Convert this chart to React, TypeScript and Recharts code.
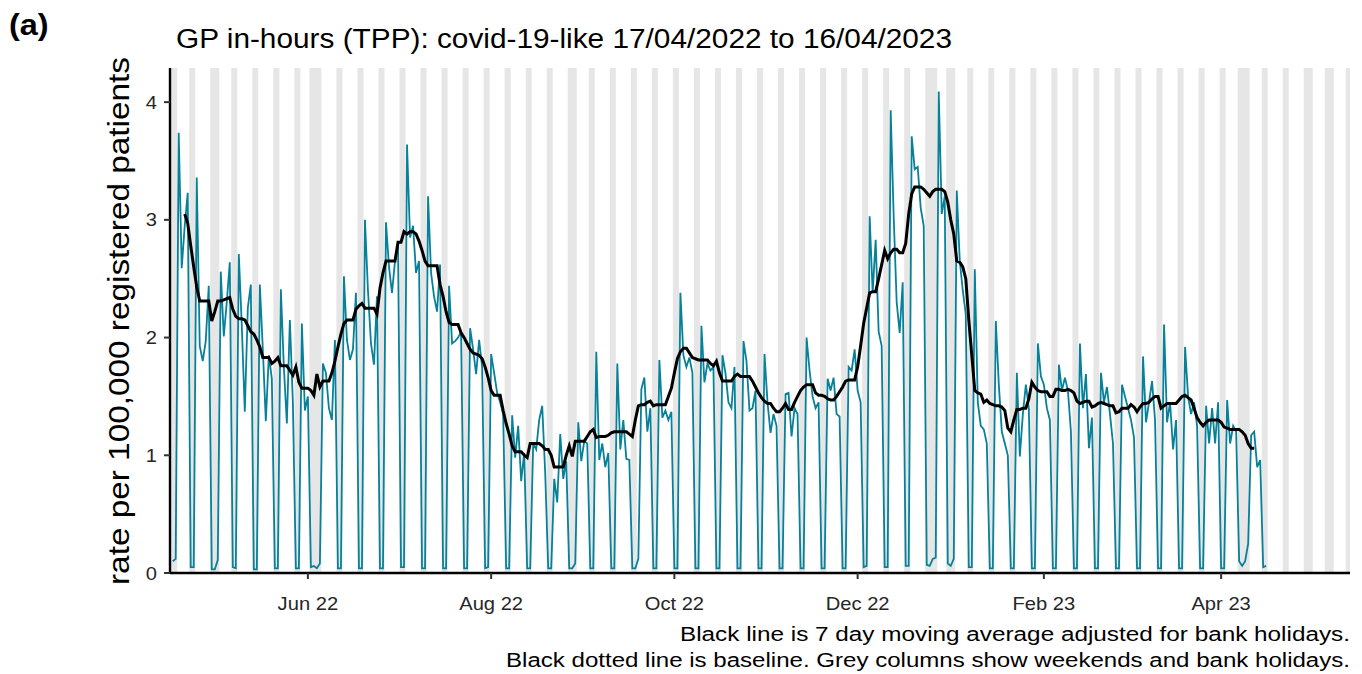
import React from "react";
import { ComposedChart, Line, XAxis, YAxis, ReferenceArea } from "recharts";

// ---------- data ----------
const START_DATE = "2022-04-17"; // day 0 (Sunday)

// daily rate per 100,000 registered patients, one row per week (Sun..Sat)
const dailyRate: number[] = [
  0.10, 0.12, 3.74, 2.59, 2.95, 3.23, 0.05,
  0.05, 3.36, 1.93, 1.80, 1.97, 2.44, 0.03,
  0.03, 0.11, 2.56, 2.01, 2.30, 2.64, 0.05,
  0.04, 2.71, 2.10, 1.37, 2.25, 2.45, 0.03,
  0.03, 2.45, 1.90, 1.29, 1.85, 1.65, 0.04,
  0.04, 2.41, 1.75, 1.27, 2.15, 1.45, 0.04,
  0.04, 2.12, 1.38, 1.50, 0.05, 0.06, 0.04,
  0.08, 1.78, 1.70, 1.40, 1.30, 1.98, 0.04,
  0.04, 2.52, 1.98, 1.81, 1.90, 2.38, 0.04,
  0.04, 3.00, 2.40, 1.95, 1.77, 2.35, 0.04,
  0.04, 2.98, 2.60, 2.38, 2.65, 2.80, 0.05,
  0.05, 3.64, 2.85, 2.95, 2.55, 2.65, 0.04,
  0.04, 3.20, 2.55, 2.35, 2.22, 2.62, 0.04,
  0.04, 2.44, 1.95, 1.97, 2.00, 2.05, 0.04,
  0.04, 2.08, 1.90, 1.69, 1.98, 1.75, 0.04,
  0.05, 1.86, 1.70, 1.53, 1.45, 1.35, 0.04,
  0.04, 1.34, 0.98, 1.25, 0.78, 1.02, 0.04,
  0.04, 1.10, 1.05, 1.30, 1.42, 0.85, 0.04,
  0.04, 0.80, 0.60, 1.18, 0.80, 0.95, 0.04,
  0.04, 0.08, 1.28, 0.95, 1.12, 1.10, 0.04,
  0.04, 1.88, 0.96, 1.10, 0.90, 1.02, 0.04,
  0.04, 1.78, 1.05, 1.30, 0.97, 0.96, 0.04,
  0.04, 0.12, 1.56, 1.66, 1.20, 1.40, 0.04,
  0.04, 1.81, 1.32, 1.38, 1.30, 1.37, 0.04,
  0.04, 2.38, 1.85, 1.75, 1.83, 1.70, 0.04,
  0.04, 2.10, 1.62, 1.78, 1.72, 1.75, 0.04,
  0.04, 1.85, 1.70, 1.45, 1.40, 1.75, 0.04,
  0.04, 1.97, 1.80, 1.38, 1.40, 1.55, 0.04,
  0.04, 1.86, 1.45, 1.19, 1.35, 1.25, 0.04,
  0.04, 1.52, 1.53, 1.16, 1.40, 1.35, 0.04,
  0.04, 2.00, 1.72, 1.50, 1.40, 1.45, 0.04,
  0.04, 1.65, 1.55, 1.66, 1.35, 1.33, 0.04,
  0.04, 1.75, 1.72, 1.90, 1.55, 1.45, 0.05,
  0.06, 3.03, 2.38, 2.83, 2.05, 1.93, 0.05,
  0.05, 3.93, 3.03, 2.30, 2.04, 2.47, 0.06,
  0.06, 3.71, 3.43, 3.45, 3.10, 2.95, 0.07,
  0.06, 0.12, 0.13, 4.09, 3.05, 3.20, 0.08,
  0.06, 0.12, 3.25, 2.65, 2.40, 2.20, 0.05,
  0.05, 2.58, 1.45, 1.25, 1.22, 1.10, 0.04,
  0.04, 2.14, 1.60, 1.20, 1.10, 1.00, 0.04,
  0.04, 1.70, 0.99, 1.35, 1.60, 1.40, 0.04,
  0.04, 1.95, 1.67, 1.60, 1.40, 1.30, 0.04,
  0.04, 1.77, 1.55, 1.66, 1.55, 1.20, 0.04,
  0.04, 1.95, 1.40, 1.69, 1.06, 1.32, 0.04,
  0.04, 1.70, 1.45, 1.58, 1.35, 1.10, 0.04,
  0.04, 1.60, 1.50, 1.40, 1.30, 1.15, 0.04,
  0.04, 1.84, 1.28, 1.45, 1.63, 1.30, 0.04,
  0.04, 2.11, 1.28, 1.45, 1.05, 1.30, 0.04,
  0.04, 1.92, 1.50, 1.35, 1.45, 1.25, 0.04,
  0.04, 1.42, 1.10, 1.40, 1.10, 1.45, 0.04,
  0.04, 1.47, 1.10, 1.25, 1.20, 0.10, 0.06,
  0.10, 0.25, 1.17, 1.20, 0.90, 0.96, 0.05,
  0.06,
];

// 7 day moving average (black line), one row per week (Sun..Sat)
const movingAverage: (number | null)[] = [
  null, null, null, null, 3.05, 2.97, 2.78,
  2.60, 2.43, 2.31, 2.31, 2.31, 2.31, 2.14,
  2.22, 2.31, 2.31, 2.32, 2.33, 2.34, 2.24,
  2.18, 2.16, 2.16, 2.15, 2.10, 2.05, 2.03,
  1.98, 1.92, 1.83, 1.83, 1.83, 1.78, 1.80,
  1.83, 1.76, 1.76, 1.76, 1.72, 1.68, 1.75,
  1.62, 1.57, 1.57, 1.57, 1.55, 1.51, 1.69,
  1.58, 1.63, 1.63, 1.63, 1.70, 1.80, 1.92,
  2.03, 2.12, 2.15, 2.15, 2.15, 2.24, 2.27,
  2.29, 2.25, 2.25, 2.25, 2.25, 2.20, 2.42,
  2.55, 2.65, 2.65, 2.65, 2.65, 2.81, 2.81,
  2.90, 2.88, 2.90, 2.90, 2.88, 2.82, 2.74,
  2.65, 2.61, 2.61, 2.61, 2.61, 2.45, 2.35,
  2.22, 2.13, 2.11, 2.11, 2.11, 2.04, 2.00,
  1.95, 1.90, 1.87, 1.86, 1.85, 1.82, 1.75,
  1.66, 1.55, 1.51, 1.51, 1.51, 1.38, 1.27,
  1.18, 1.08, 1.03, 1.03, 1.03, 1.00, 0.98,
  1.10, 1.10, 1.10, 1.10, 1.08, 1.05, 1.05,
  1.00, 0.90, 0.90, 0.90, 0.90, 1.00, 1.08,
  0.99, 1.12, 1.12, 1.12, 1.12, 1.16, 1.20,
  1.22, 1.15, 1.16, 1.16, 1.16, 1.17, 1.19,
  1.20, 1.20, 1.20, 1.20, 1.20, 1.18, 1.16,
  1.30, 1.42, 1.43, 1.43, 1.45, 1.46, 1.42,
  1.43, 1.43, 1.43, 1.43, 1.50, 1.57, 1.70,
  1.82, 1.88, 1.91, 1.91, 1.87, 1.83, 1.82,
  1.81, 1.81, 1.81, 1.81, 1.78, 1.76, 1.80,
  1.70, 1.63, 1.63, 1.63, 1.63, 1.67, 1.69,
  1.67, 1.67, 1.67, 1.67, 1.63, 1.58, 1.53,
  1.49, 1.46, 1.44, 1.44, 1.40, 1.37, 1.37,
  1.40, 1.44, 1.39, 1.39, 1.45, 1.50, 1.55,
  1.58, 1.60, 1.60, 1.60, 1.53, 1.51, 1.51,
  1.50, 1.48, 1.47, 1.47, 1.50, 1.54, 1.58,
  1.63, 1.64, 1.64, 1.64, 1.75, 1.93, 2.12,
  2.25, 2.38, 2.39, 2.39, 2.50, 2.62, 2.74,
  2.67, 2.72, 2.75, 2.75, 2.72, 2.72, 2.80,
  3.05, 3.22, 3.28, 3.28, 3.28, 3.26, 3.23,
  3.20, 3.24, 3.26, 3.26, 3.26, 3.24, 3.15,
  3.00, 2.88, 2.65, 2.64, 2.60, 2.50, 2.15,
  1.85, 1.55, 1.53, 1.52, 1.45, 1.47, 1.44,
  1.43, 1.42, 1.42, 1.41, 1.38, 1.23, 1.20,
  1.30, 1.39, 1.39, 1.40, 1.40, 1.48, 1.62,
  1.58, 1.55, 1.54, 1.54, 1.54, 1.50, 1.50,
  1.56, 1.56, 1.55, 1.55, 1.56, 1.55, 1.53,
  1.46, 1.44, 1.45, 1.46, 1.46, 1.41, 1.42,
  1.44, 1.45, 1.44, 1.43, 1.42, 1.42, 1.36,
  1.37, 1.40, 1.40, 1.40, 1.43, 1.41, 1.37,
  1.41, 1.44, 1.44, 1.45, 1.48, 1.50, 1.50,
  1.40, 1.42, 1.44, 1.44, 1.44, 1.44, 1.47,
  1.50, 1.51, 1.49, 1.47, 1.40, 1.32, 1.28,
  1.25, 1.28, 1.30, 1.30, 1.30, 1.30, 1.28,
  1.24, 1.23, 1.22, 1.22, 1.22, 1.22, 1.20,
  1.17, 1.10, 1.06, 1.06, null, null, null,
  null,
];

const bankHolidays: string[] = [
  "2022-04-18", "2022-05-02", "2022-06-02", "2022-06-03", "2022-08-29",
  "2022-12-26", "2022-12-27", "2023-01-02", "2023-04-07", "2023-04-10",
  "2023-05-01", "2023-05-08",
];

const tickDates: string[] = ["2022-06-01", "2022-08-01", "2022-10-01", "2022-12-01", "2023-02-01", "2023-04-01"];
const tickLabels: string[] = ["Jun 22", "Aug 22", "Oct 22", "Dec 22", "Feb 23", "Apr 23"];
const yTicks: number[] = [0, 1, 2, 3, 4];

const titleText = "GP in-hours (TPP): covid-19-like 17/04/2022 to 16/04/2023";
const yLabelText = "rate per 100,000 registered patients";
const captionLines: string[] = [
  "Black line is 7 day moving average adjusted for bank holidays.",
  "Black dotted line is baseline. Grey columns show weekends and bank holidays.",
];

// ---------- layout ----------
const W = 1354;
const H = 666;
const PLOT_LEFT = 162;
const PLOT_RIGHT = 1342;
const PLOT_TOP = 60;
const PLOT_BOTTOM = 565;
const X_AXIS_H = 40;
const X_DOMAIN: [number, number] = [-0.9, 391.9];
const Y_DOMAIN: [number, number] = [0, 4.29];
const FONT = "'Liberation Sans', Arial, Helvetica, sans-serif";
const TEAL = "#07809a";
const GREY = "#e6e6e6";
const SX = 1.12;

const DAY_MS = 86400000;
const startUtc = Date.parse(START_DATE + "T00:00:00Z");
const dayIndex = (iso: string) => Math.round((Date.parse(iso + "T00:00:00Z") - startUtc) / DAY_MS);

const tickDays = tickDates.map(dayIndex);
const holidayDays = new Set(bankHolidays.map(dayIndex));

const data = dailyRate.map((v, i) => ({ day: i, rate: v, ma: movingAverage[i] }));

// grey runs (weekends + bank holidays) across the whole axis
const greyRuns: { x1: number; x2: number }[] = (() => {
  const runs: { x1: number; x2: number }[] = [];
  let runStart: number | null = null;
  const last = Math.ceil(X_DOMAIN[1]) + 1;
  for (let d = Math.floor(X_DOMAIN[0]); d <= last; d++) {
    const dow = new Date(startUtc + d * DAY_MS).getUTCDay();
    const grey = dow === 0 || dow === 6 || holidayDays.has(d);
    if (grey && runStart === null) runStart = d;
    if (!grey && runStart !== null) {
      runs.push({ x1: runStart - 0.5, x2: d - 1 + 0.5 });
      runStart = null;
    }
  }
  if (runStart !== null) runs.push({ x1: runStart - 0.5, x2: last + 0.5 });
  return runs;
})();

const XTick = (props: any) => {
  const { x, payload } = props;
  const idx = tickDays.indexOf(payload.value);
  return (
    <text
      transform={`translate(${x},${PLOT_BOTTOM + 37}) scale(${SX},1)`}
      textAnchor="middle"
      fontSize={18}
      fontFamily={FONT}
      fill="#262626"
    >
      {idx >= 0 ? tickLabels[idx] : ""}
    </text>
  );
};

const YTick = (props: any) => {
  const { y, payload } = props;
  return (
    <text
      transform={`translate(${PLOT_LEFT - 13},${y + 6.5}) scale(${SX},1)`}
      textAnchor="end"
      fontSize={18}
      fontFamily={FONT}
      fill="#262626"
    >
      {payload.value}
    </text>
  );
};

export default function App() {
  return (
    <div style={{ position: "relative", width: W, height: H }}>
      <ComposedChart
        width={W}
        height={H}
        data={data}
        margin={{ top: PLOT_TOP, right: W - PLOT_RIGHT, bottom: H - PLOT_BOTTOM - X_AXIS_H, left: 0 }}
      >
        {greyRuns.map((r, i) => (
          <ReferenceArea
            key={i}
            x1={r.x1}
            x2={r.x2}
            y1={Y_DOMAIN[0]}
            y2={Y_DOMAIN[1]}
            fill={GREY}
            fillOpacity={1}
            stroke="none"
            ifOverflow="hidden"
          />
        ))}
        <XAxis
          dataKey="day"
          type="number"
          domain={X_DOMAIN}
          allowDataOverflow
          ticks={tickDays}
          interval={0}
          height={X_AXIS_H}
          axisLine={{ stroke: "#000", strokeWidth: 2.4 }}
          tickLine={{ stroke: "#333", strokeWidth: 2 }}
          tickSize={6}
          tick={<XTick />}
        />
        <YAxis
          type="number"
          domain={Y_DOMAIN}
          allowDataOverflow
          ticks={yTicks}
          interval={0}
          width={PLOT_LEFT}
          axisLine={{ stroke: "#000", strokeWidth: 2.4 }}
          tickLine={{ stroke: "#333", strokeWidth: 2 }}
          tickSize={6}
          tick={<YTick />}
        />
        <Line
          type="linear"
          dataKey="rate"
          stroke={TEAL}
          strokeWidth={1.8}
          dot={false}
          activeDot={false}
          isAnimationActive={false}
        />
        <Line
          type="linear"
          dataKey="ma"
          stroke="#000"
          strokeWidth={3}
          dot={false}
          activeDot={false}
          connectNulls={false}
          isAnimationActive={false}
        />
      </ComposedChart>
      <svg
        width={W}
        height={H}
        style={{ position: "absolute", left: 0, top: 0, pointerEvents: "none" }}
      >
        <text
          transform={`translate(1,27) scale(${SX},1)`}
          fontSize={29}
          fontWeight="bold"
          fontFamily={FONT}
          fill="#000"
        >
          (a)
        </text>
        <text
          x={168}
          y={40}
          fontSize={27}
          fontFamily={FONT}
          fill="#000"
          textLength={776}
          lengthAdjust="spacingAndGlyphs"
        >
          {titleText}
        </text>
        <text
          transform={`translate(121,313) rotate(-90)`}
          textAnchor="middle"
          fontSize={29}
          fontFamily={FONT}
          fill="#000"
          textLength={528}
          lengthAdjust="spacingAndGlyphs"
        >
          {yLabelText}
        </text>
        {captionLines.map((line, i) => (
          <text
            key={i}
            x={PLOT_RIGHT}
            y={633 + i * 26}
            textAnchor="end"
            fontSize={20}
            fontFamily={FONT}
            fill="#000"
            textLength={i === 0 ? 670 : 844}
            lengthAdjust="spacingAndGlyphs"
          >
            {line}
          </text>
        ))}
      </svg>
    </div>
  );
}
